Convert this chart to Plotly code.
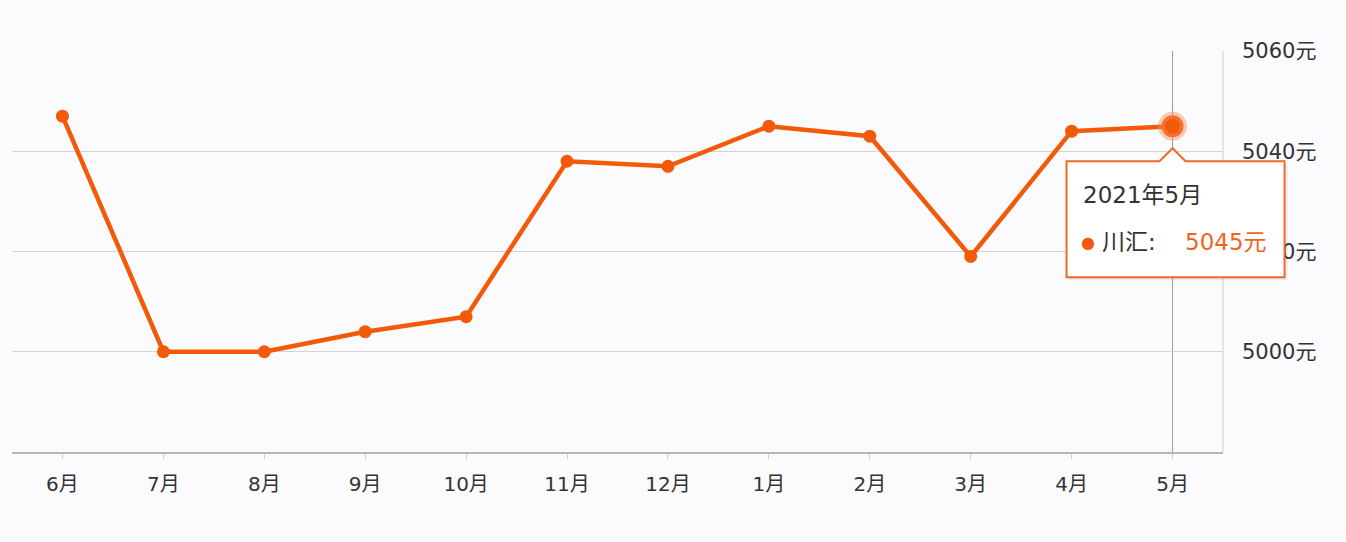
import plotly.graph_objects as go

months = ["6月", "7月", "8月", "9月", "10月", "11月", "12月", "1月", "2月", "3月", "4月", "5月"]
prices = [5047, 5000, 5000, 5004, 5007, 5038, 5037, 5045, 5043, 5019, 5044, 5045]
y_ticks = [5000, 5020, 5040, 5060]
y_range = [4980, 5060]
series_name = "川汇"
tooltip_title = "2021年5月"
unit = "元"

LINE = "#f25a0a"
BG = "#fbfbfd"
FONT = "DejaVu Sans, Noto Sans CJK SC"

fig = go.Figure()
fig.add_trace(go.Scatter(
    x=months, y=prices, mode="lines+markers",
    line=dict(color=LINE, width=4.5),
    marker=dict(color=LINE, size=13),
    hoverinfo="skip", showlegend=False,
))
# highlighted (hovered) last point
fig.add_trace(go.Scatter(
    x=[months[-1]], y=[prices[-1]], mode="markers",
    marker=dict(color=LINE, size=22, line=dict(color="rgba(245,140,90,0.45)", width=7)),
    hoverinfo="skip", showlegend=False,
))

n = len(months)
ax = (n - 1 + 0.5) / n
ay = (prices[-1] - y_range[0]) / (y_range[1] - y_range[0])

shapes = [
    # crosshair
    dict(type="line", xref="x", yref="paper", x0=months[-1], x1=months[-1], y0=0, y1=1,
         line=dict(color="#9a9a9a", width=1), layer="below"),
    # right border
    dict(type="line", xref="paper", yref="paper", x0=1, x1=1, y0=0, y1=1,
         line=dict(color="#cfcfcf", width=1), layer="below"),
    # tooltip shadow
    dict(type="path", xref="paper", yref="paper", xsizemode="pixel", ysizemode="pixel",
         xanchor=ax, yanchor=ay,
         path="M -104,-38 L 115,-38 L 115,-154 L -104,-154 Z",
         fillcolor="rgba(0,0,0,0.07)", line=dict(width=0), layer="above"),
    # tooltip box
    dict(type="path", xref="paper", yref="paper", xsizemode="pixel", ysizemode="pixel",
         xanchor=ax, yanchor=ay,
         path="M -106,-35 L -13,-35 L 0,-22 L 13,-35 L 112,-35 L 112,-151 L -106,-151 Z",
         fillcolor="#ffffff", line=dict(color="#ef6a25", width=2), layer="above"),
]

annotations = [
    dict(xref="paper", yref="paper", x=ax, y=ay, xanchor="left", yanchor="middle",
         xshift=-92, yshift=-69, text=tooltip_title, showarrow=False,
         font=dict(family=FONT, size=23, color="#333333")),
    dict(xref="paper", yref="paper", x=ax, y=ay, xanchor="center", yanchor="middle",
         xshift=-85, yshift=-116, text="●", showarrow=False,
         font=dict(family=FONT, size=16, color=LINE)),
    dict(xref="paper", yref="paper", x=ax, y=ay, xanchor="left", yanchor="middle",
         xshift=-73, yshift=-116, text=series_name + ":", showarrow=False,
         font=dict(family=FONT, size=23, color="#333333")),
    dict(xref="paper", yref="paper", x=ax, y=ay, xanchor="left", yanchor="middle",
         xshift=10, yshift=-116, text=f"{prices[-1]}{unit}", showarrow=False,
         font=dict(family=FONT, size=23, color="#f0641e")),
]

fig.update_layout(
    width=1346, height=542,
    margin=dict(l=12, r=123, t=51, b=90),
    paper_bgcolor=BG, plot_bgcolor=BG,
    font=dict(family=FONT, color="#333333"),
    hovermode=False,
    shapes=shapes, annotations=annotations,
    xaxis=dict(
        type="category", range=[-0.5, n - 0.5],
        showgrid=False, zeroline=False,
        showline=True, linecolor="#b5b5b5", linewidth=1.5,
        ticks="outside", ticklen=5, tickcolor="#cccccc",
        tickfont=dict(family=FONT, size=20, color="#333333"),
        ticklabelstandoff=8,
    ),
    yaxis=dict(
        side="right", range=y_range, tickmode="array", tickvals=y_ticks,
        ticktext=[f"{v}{unit}" for v in y_ticks],
        showgrid=True, gridcolor="#d3d3d3", gridwidth=1,
        zeroline=False, showline=False, ticks="",
        tickfont=dict(family=FONT, size=21, color="#333333"),
        ticklabelstandoff=18,
    ),
)

fig.write_html("out.html", config={"displayModeBar": False},
               post_script="document.body.style.margin='0';")
